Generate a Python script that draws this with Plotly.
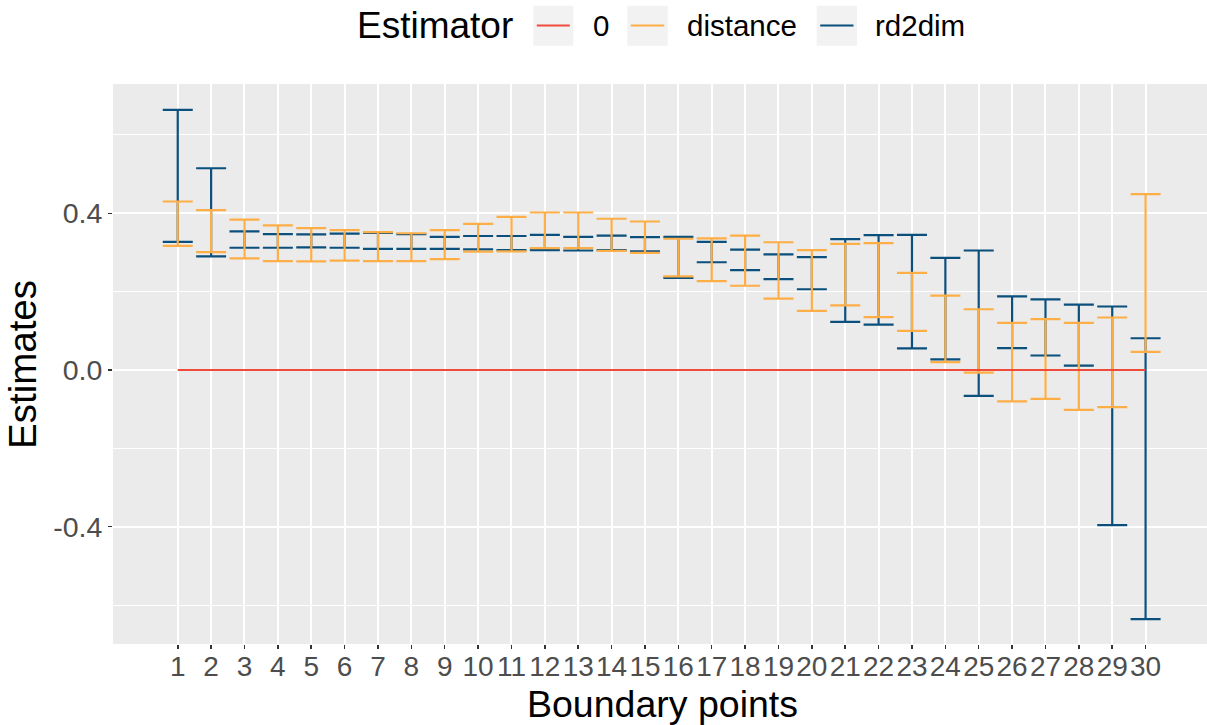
import plotly.graph_objects as go

# ---------------- data ----------------
points = list(range(1, 31))
tick_labels = [str(p) for p in points]

rd2dim_lo = [0.327, 0.290, 0.312, 0.312, 0.313, 0.312, 0.309, 0.309, 0.309, 0.308,
             0.306, 0.306, 0.305, 0.306, 0.303, 0.235, 0.275, 0.255, 0.232, 0.206,
             0.123, 0.116, 0.055, 0.027, -0.066, 0.056, 0.037, 0.011, -0.396, -0.636]
rd2dim_hi = [0.664, 0.515, 0.354, 0.347, 0.346, 0.348, 0.350, 0.347, 0.340, 0.342,
             0.342, 0.345, 0.340, 0.343, 0.339, 0.340, 0.327, 0.307, 0.295, 0.288,
             0.334, 0.344, 0.345, 0.286, 0.305, 0.188, 0.180, 0.167, 0.162, 0.081]
distance_lo = [0.317, 0.301, 0.285, 0.278, 0.277, 0.279, 0.278, 0.278, 0.283, 0.302,
               0.303, 0.311, 0.311, 0.304, 0.299, 0.239, 0.227, 0.215, 0.182, 0.151,
               0.165, 0.135, 0.100, 0.020, -0.007, -0.080, -0.074, -0.102, -0.095, 0.046]
distance_hi = [0.430, 0.408, 0.384, 0.369, 0.362, 0.357, 0.352, 0.349, 0.357, 0.373,
               0.391, 0.402, 0.402, 0.386, 0.379, 0.335, 0.336, 0.343, 0.326, 0.306,
               0.322, 0.324, 0.248, 0.190, 0.155, 0.120, 0.130, 0.120, 0.134, 0.449]
zero_line = [0.0] * 30

legend_labels = ["0", "distance", "rd2dim"]
col_red = "#F04A3B"
col_orange = "#FDAE47"
col_blue = "#0B4F7D"

# ---------------- layout geometry ----------------
W, H = 1207, 725
L, R, T, B = 113, 0, 84, 81
PW = W - L - R
PH = H - T - B


def px_x(p):
    return (p - L) / PW


def px_y(p):
    return (H - B - p) / PH


fig = go.Figure()


def errbar(lo, hi, color):
    return go.Scatter(
        x=points, y=lo, mode="markers",
        marker=dict(size=1, opacity=0, color=color),
        error_y=dict(type="data", symmetric=False,
                     array=[h - l for h, l in zip(hi, lo)],
                     arrayminus=[0] * len(lo),
                     color=color, thickness=2.2, width=15),
        showlegend=False, hoverinfo="skip")


fig.add_trace(errbar(rd2dim_lo, rd2dim_hi, col_blue))
fig.add_trace(errbar(distance_lo, distance_hi, col_orange))
fig.add_trace(go.Scatter(x=points, y=zero_line, mode="lines",
                         line=dict(color=col_red, width=2),
                         showlegend=False, hoverinfo="skip"))

fig.update_layout(
    width=W, height=H,
    margin=dict(l=L, r=R, t=T, b=B, autoexpand=False),
    paper_bgcolor="white", plot_bgcolor="#EBEBEB",
    font=dict(family="Liberation Sans, Arial, sans-serif", color="black"),
    showlegend=False,
)

fig.update_xaxes(
    range=[-0.94, 31.84], tickvals=points, ticktext=tick_labels,
    showgrid=True, gridcolor="white", gridwidth=2, zeroline=False,
    ticks="outside", ticklen=4, tickwidth=1.5, tickcolor="#333333",
    tickfont=dict(size=28, color="#4D4D4D"), showline=False,
    ticklabelstandoff=-7,
)
fig.update_yaxes(
    range=[-0.6995, 0.730], tickvals=[-0.4, 0.0, 0.4], ticktext=["-0.4", "0.0", "0.4"],
    showgrid=True, gridcolor="white", gridwidth=2, zeroline=False,
    ticks="outside", ticklen=4, tickwidth=1.5, tickcolor="#333333",
    tickfont=dict(size=28.5, color="#4D4D4D"), showline=False,
    minor=dict(tickvals=[-0.6, -0.2, 0.2, 0.6], showgrid=True,
               gridcolor="white", gridwidth=1, ticks=""),
)

annotations = []
# axis titles
annotations.append(dict(text="Boundary points", xref="paper", yref="paper",
                        x=px_x(662), y=px_y(704), xanchor="center", yanchor="middle",
                        showarrow=False, font=dict(size=37.5, color="black")))
annotations.append(dict(text="Estimates", xref="paper", yref="paper",
                        x=px_x(22), y=px_y(365), xanchor="center", yanchor="middle",
                        textangle=-90, showarrow=False,
                        font=dict(size=38.5, color="black")))
# legend title
annotations.append(dict(text="Estimator", xref="paper", yref="paper",
                        x=px_x(355), y=px_y(26), xanchor="left", yanchor="middle",
                        showarrow=False, font=dict(size=37, color="black")))

shapes = []
key_boxes = [(533.3, 573.3), (627.3, 667.7), (816.7, 857.0)]
label_x = [591, 685, 873]
key_colors = [col_red, col_orange, col_blue]
for (x0, x1), lx, c, lab in zip(key_boxes, label_x, key_colors, legend_labels):
    shapes.append(dict(type="rect", xref="paper", yref="paper",
                       x0=px_x(x0), x1=px_x(x1), y0=px_y(45.7), y1=px_y(5.7),
                       fillcolor="#F2F2F2", line=dict(width=0), layer="above"))
    shapes.append(dict(type="line", xref="paper", yref="paper",
                       x0=px_x(x0 + 3.5), x1=px_x(x1 - 3.5), y0=px_y(25.5), y1=px_y(25.5),
                       line=dict(color=c, width=2), layer="above"))
    annotations.append(dict(text=lab, xref="paper", yref="paper",
                            x=px_x(lx), y=px_y(26), xanchor="left", yanchor="middle",
                            showarrow=False, font=dict(size=29.5, color="black")))

fig.update_layout(annotations=annotations, shapes=shapes)

fig.write_html(
    "out.html",
    config={"displayModeBar": False, "staticPlot": True},
    post_script="document.body.style.margin='0';document.body.style.padding='0';"
                "document.documentElement.style.overflow='hidden';",
)
